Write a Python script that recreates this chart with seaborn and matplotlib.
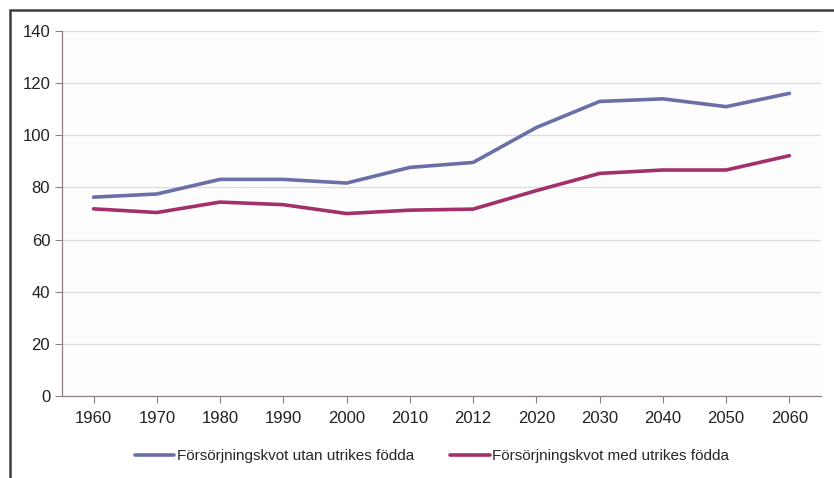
import pandas as pd
import seaborn as sns
import matplotlib.pyplot as plt
from matplotlib.patches import Rectangle

# data
years = ['1960', '1970', '1980', '1990', '2000', '2010', '2012',
         '2020', '2030', '2040', '2050', '2060']
utan = [76.3, 77.5, 83.1, 83.1, 81.7, 87.7, 89.6, 103.0, 113.0, 114.0, 111.0, 116.1]
med = [71.8, 70.4, 74.4, 73.4, 70.0, 71.3, 71.7, 78.8, 85.4, 86.7, 86.7, 92.2]
series_names = ['Försörjningskvot utan utrikes födda', 'Försörjningskvot med utrikes födda']
colors = ['#6a6fa8', '#a3306b']

df = pd.concat([
    pd.DataFrame({'year': years, 'value': utan, 'serie': series_names[0]}),
    pd.DataFrame({'year': years, 'value': med, 'serie': series_names[1]}),
])

sns.set_style('white')
plt.rcParams['font.family'] = ['Liberation Sans', 'DejaVu Sans']

fig = plt.figure(figsize=(8.34, 4.78), dpi=100)
ax = fig.add_axes([0.0743, 0.1715, 0.9101, 0.7635])

sns.lineplot(data=df, x='year', y='value', hue='serie', palette=colors,
             sort=False, linewidth=2.6, ax=ax, legend=True)

ax.set_xlim(-0.5, len(years) - 0.5)
ax.set_ylim(0, 140)
ax.set_yticks(range(0, 141, 20))
ax.set_xlabel('')
ax.set_ylabel('')
ax.set_facecolor('#fdfdfd')
ax.grid(axis='y', color='#e2d9d9', linewidth=0.9)
ax.set_axisbelow(True)

for s in ['top', 'right']:
    ax.spines[s].set_visible(False)
for s in ['left', 'bottom']:
    ax.spines[s].set_color('#8c8080')
    ax.spines[s].set_linewidth(0.9)

ax.tick_params(axis='both', labelsize=12, colors='#8c8080', labelcolor='#222222',
               length=5, width=0.8, left=True, bottom=True)
ax.tick_params(axis='x', pad=6)

handles, labels = ax.get_legend_handles_labels()
ax.get_legend().remove()
fig.legend(handles, labels, loc='center', bbox_to_anchor=(0.518, 0.045), ncol=2,
           frameon=False, fontsize=11, handlelength=2.6, handletextpad=0.15,
           columnspacing=2.4)

# dark frame around the chart (cut off on right and bottom)
fig.patches.append(Rectangle((10 / 834, -0.1), 1.2, 1 - 10 / 478 + 0.1,
                             transform=fig.transFigure, fill=False,
                             edgecolor='#3c3c3c', linewidth=1.8))

fig.savefig('out.png', dpi=100)
